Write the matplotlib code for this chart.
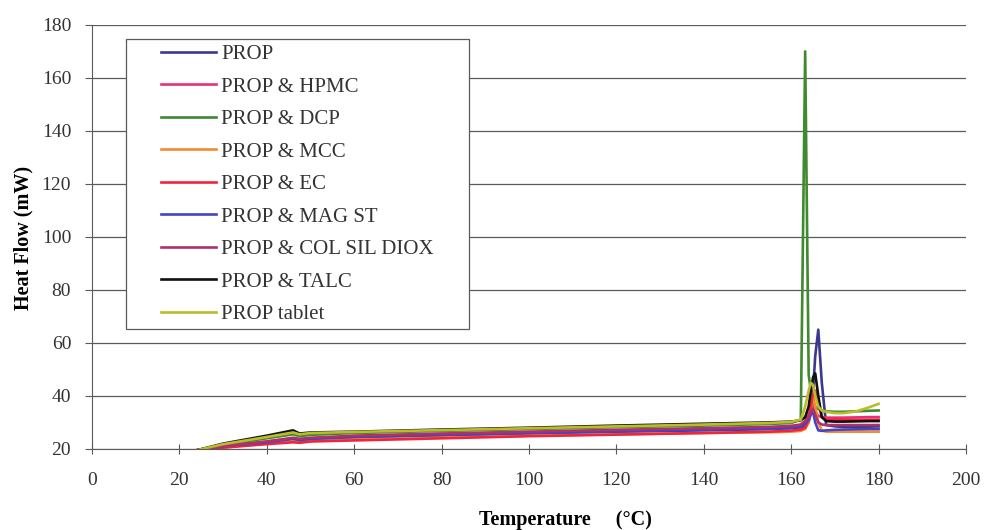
import matplotlib
matplotlib.use("Agg")
import matplotlib.pyplot as plt
from matplotlib.patches import Rectangle

plt.rcParams['font.family'] = ['Liberation Serif', 'DejaVu Serif']

# temperature grid (°C) shared by every DSC trace
temp = [24, 30, 40, 46, 47.5, 50, 60, 80, 100, 120, 140, 155, 160, 162.2, 163.2,
        164, 164.5, 165, 165.5, 166.2, 167, 168, 170, 172, 175, 178, 180]

prop = [19.5, 21, 22.5, 23.5, 23.2, 23.5, 24.2, 25, 25.8, 26.5, 27, 27.5, 27.8, 28.1, 28.5,
        30, 34, 42, 55, 65, 45, 29, 28.5, 28.3, 28.3, 28.4, 28.5]
hpmc = [19.5, 21, 22.8, 24, 23.5, 24, 24.8, 25.6, 26.3, 27, 27.6, 28.1, 28.5, 29, 30.5,
        33, 35, 36, 34, 32.5, 32, 31.8, 31.8, 31.8, 31.9, 32, 32]
dcp = [19.5, 21.5, 24, 25.5, 24.8, 25.3, 26, 26.8, 27.5, 28.2, 28.8, 29.4, 29.8, 31, 170,
       48, 42, 38, 36, 35, 34.5, 34.2, 34, 34, 34.2, 34.4, 34.5]
mcc = [19.5, 20.5, 22, 23, 22.8, 23, 23.6, 24.3, 25, 25.5, 26, 26.3, 26.5, 26.8, 27.5,
       30, 35, 40, 36, 30, 27, 26.5, 26.5, 26.5, 26.5, 26.5, 26.5]
ec = [19.5, 20.5, 21.8, 22.5, 22.3, 22.8, 23.2, 24, 24.8, 25.4, 26, 26.5, 26.9, 27.3, 28,
      31, 36, 41, 42, 38, 32, 31, 31, 31, 31, 31, 31]
mag_st = [19.5, 21, 22.5, 23.8, 23.3, 23.8, 24.5, 25.3, 26, 26.6, 27.2, 27.6, 28, 28.5, 29.5,
          31, 33, 34, 30, 27, 26.8, 27, 27.2, 27.3, 27.4, 27.5, 27.5]
col_sil = [19.5, 21, 22.8, 24.2, 23.8, 24.2, 25, 25.8, 26.5, 27.2, 27.8, 28.3, 28.7, 29.2, 30.5,
           32, 34, 35, 33, 30, 29.2, 29, 29, 29, 29, 29, 29]
talc = [19.5, 22, 25, 27, 25.8, 26.2, 26.5, 27.3, 28, 28.8, 29.5, 30, 30.3, 30.8, 32,
        36, 42, 47, 48.5, 40, 32, 30.5, 30.3, 30.3, 30.4, 30.5, 30.5]
tablet = [19.5, 21.8, 24.5, 26.2, 25.5, 26, 26.4, 27.1, 27.8, 28.5, 29.2, 29.8, 30.2, 31, 36,
          42, 45, 44, 40, 36, 34.5, 34, 33.5, 33.5, 34.2, 35.8, 37]

labels = ['PROP', 'PROP & HPMC', 'PROP & DCP', 'PROP & MCC', 'PROP & EC',
          'PROP & MAG ST', 'PROP & COL SIL DIOX', 'PROP & TALC', 'PROP tablet']
series = [prop, hpmc, dcp, mcc, ec, mag_st, col_sil, talc, tablet]
colors = ['#3a3a8c', '#e8307a', '#3f8a2e', '#f58a30', '#f0243c',
          '#4444c4', '#b03068', '#111111', '#bcbc2a']

fig = plt.figure(figsize=(9.85, 5.3), dpi=100)
ax = fig.add_axes([0.0934, 0.153, 0.8873, 0.8])

for vals, lab, col in zip(series, labels, colors):
    ax.plot(temp, vals, color=col, lw=1.9, label=lab)

ax.set_xlim(0, 200)
ax.set_ylim(20, 180)
ax.set_xticks(range(0, 201, 20))
ax.set_yticks(range(20, 181, 20))
ax.yaxis.grid(True, color='#5a5a5a', lw=0.9)
ax.set_axisbelow(True)
for s in ['top', 'right']:
    ax.spines[s].set_visible(False)
for s in ['left', 'bottom']:
    ax.spines[s].set_color('#5a5a5a')
ax.tick_params(axis='x', direction='inout', length=7, color='#5a5a5a',
               labelsize=14, labelcolor='#333333', pad=13)
ax.tick_params(axis='y', direction='out', length=5, color='#5a5a5a',
               labelsize=14, labelcolor='#333333', pad=10)

ax.set_xlabel('Temperature     (°C)', fontsize=14.5, fontweight='bold')
ax.xaxis.set_label_coords(0.542, -0.143)
ax.set_ylabel('Heat Flow (mW)', fontsize=14.5, fontweight='bold')
ax.yaxis.set_label_coords(-0.0675, 0.497)

leg = ax.legend(loc='upper left', bbox_to_anchor=(0.073, 0.966), borderaxespad=0,
                fontsize=15, handlelength=2.65, handletextpad=0.25, labelspacing=0.62,
                frameon=False, borderpad=0.25)
leg.set_zorder(6)
for t in leg.get_texts():
    t.set_color('#333333')

# legend frame: wider side padding than matplotlib's symmetric borderpad
fig.canvas.draw()
bb = leg.get_window_extent().transformed(ax.transAxes.inverted())
padx = 30 / ax.bbox.width
frame = Rectangle((bb.x0 - padx, bb.y0), bb.width + 2 * padx, bb.height,
                  transform=ax.transAxes, facecolor='white', edgecolor='#5a5a5a',
                  lw=0.9, zorder=5, clip_on=False)
ax.add_patch(frame)

fig.savefig('out.png', dpi=100)
